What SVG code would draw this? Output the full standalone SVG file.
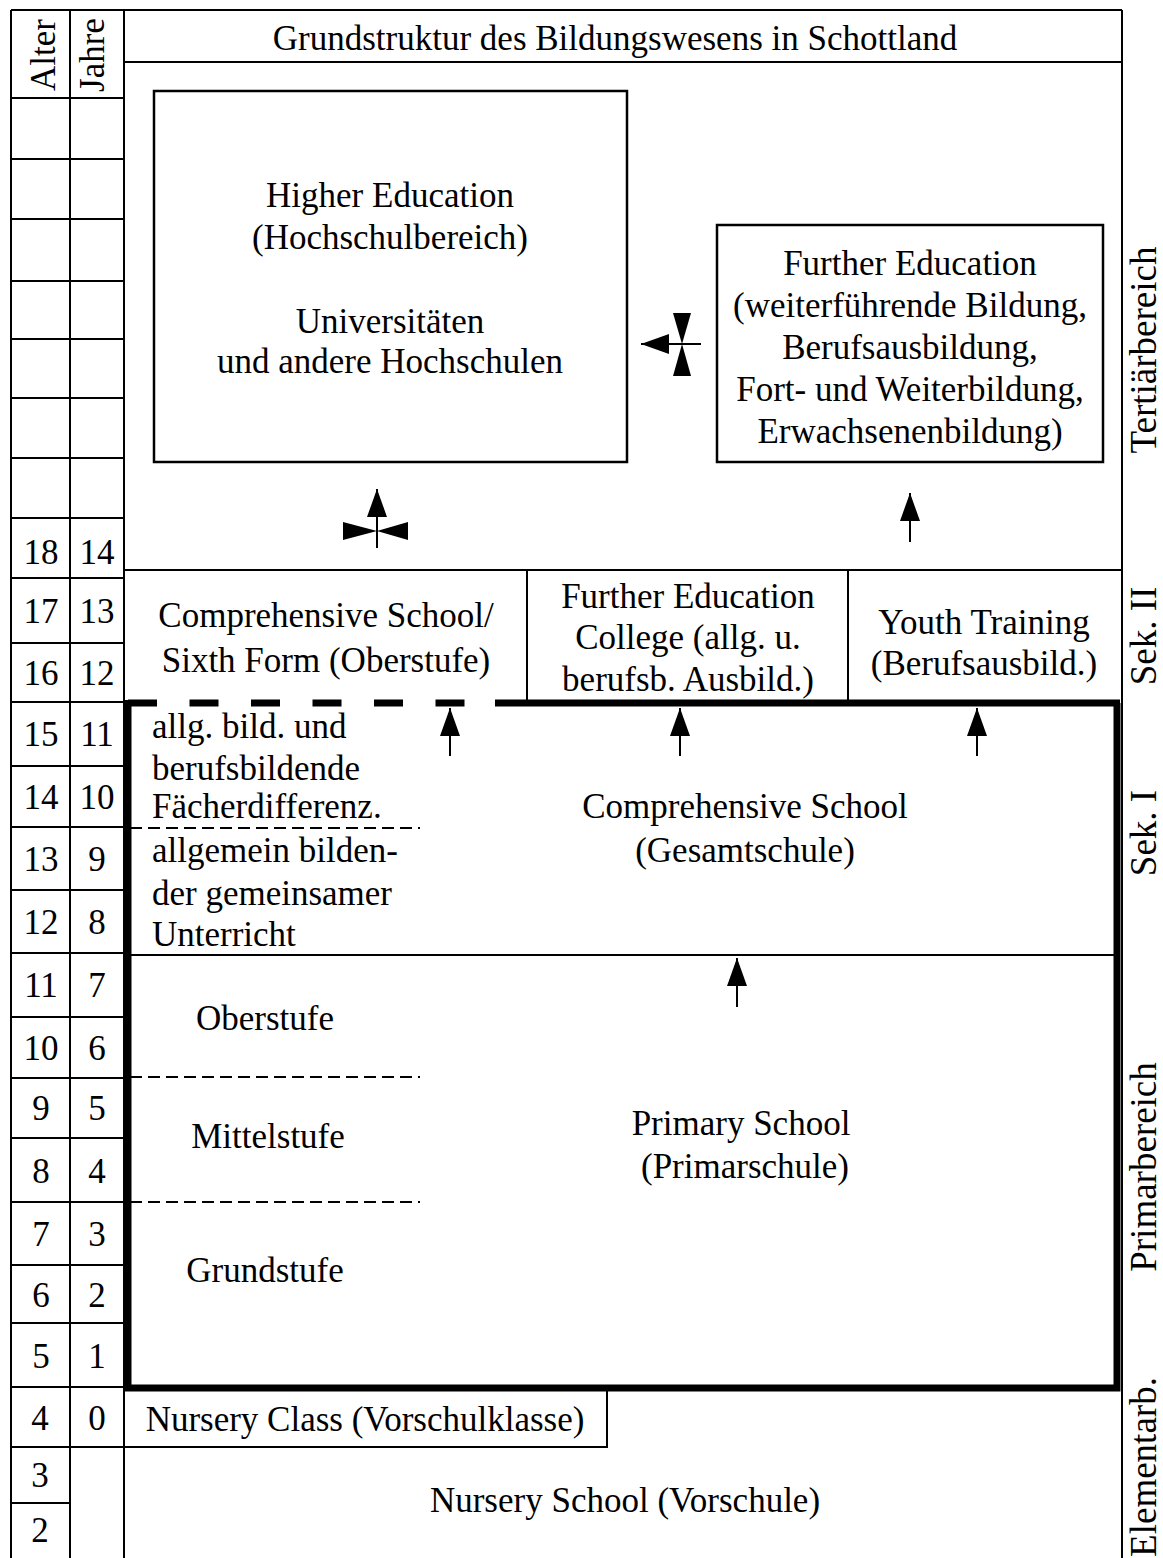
<svg xmlns="http://www.w3.org/2000/svg" width="1163" height="1558" viewBox="0 0 1163 1558">
<style>
.t{font-family:"Liberation Serif","Times New Roman",serif;font-size:35px;fill:#000}
.c{text-anchor:middle}
.r{font-size:37px}
.ln{stroke:#000;stroke-width:2;fill:none}
.box{stroke:#000;stroke-width:2.5;fill:none}
.thick{stroke:#000;stroke-width:7;fill:none}
.tdash{stroke:#000;stroke-width:7;fill:none;stroke-dasharray:29 32.5}
.dash{stroke:#000;stroke-width:2;fill:none;stroke-dasharray:12 6}
.arr{stroke:#000;stroke-width:2;fill:none;marker-end:url(#ah)}
.bow{fill:#000}
</style>
<defs>
<marker id="ah" viewBox="0 0 28 20" refX="28" refY="10" markerWidth="28" markerHeight="20" markerUnits="userSpaceOnUse" orient="auto">
<path d="M0,0 L28,10 L0,20 z" fill="#000"/>
</marker>
</defs>
<rect width="1163" height="1558" fill="#fff"/>

<g id="frame">
<path class="ln" d="M11,10 H1122 M11,10 V1558 M70,10 V1558 M124,10 V1558 M1122,10 V1558 M124,62 H1122 M124,570 H1122 M527,570 V702 M848,570 V702"/>
<path class="ln" d="M11,98 H124 M11,159 H124 M11,219 H124 M11,281 H124 M11,339 H124 M11,398 H124 M11,458 H124 M11,518 H124 M11,578 H124 M11,643 H124 M11,702 H124 M11,766 H124 M11,827 H124 M11,890 H124 M11,953 H124 M11,1017 H124 M11,1078 H124 M11,1138 H124 M11,1202 H124 M11,1265 H124 M11,1323 H124 M11,1387 H124 M11,1447 H124 M11,1503 H70"/>
</g>

<g id="age-column">
<text class="t c" transform="translate(55,55) rotate(-90)">Alter</text>
<text class="t c" transform="translate(104,55) rotate(-90)">Jahre</text>
<text class="t c" x="41" y="564">18</text><text class="t c" x="97" y="564">14</text>
<text class="t c" x="41" y="623">17</text><text class="t c" x="97" y="623">13</text>
<text class="t c" x="41" y="685">16</text><text class="t c" x="97" y="685">12</text>
<text class="t c" x="41" y="746">15</text><text class="t c" x="97" y="746">11</text>
<text class="t c" x="41" y="809">14</text><text class="t c" x="97" y="809">10</text>
<text class="t c" x="41" y="871">13</text><text class="t c" x="97" y="871">9</text>
<text class="t c" x="41" y="934">12</text><text class="t c" x="97" y="934">8</text>
<text class="t c" x="41" y="997">11</text><text class="t c" x="97" y="997">7</text>
<text class="t c" x="41" y="1060">10</text><text class="t c" x="97" y="1060">6</text>
<text class="t c" x="41" y="1120">9</text><text class="t c" x="97" y="1120">5</text>
<text class="t c" x="41" y="1183">8</text><text class="t c" x="97" y="1183">4</text>
<text class="t c" x="41" y="1246">7</text><text class="t c" x="97" y="1246">3</text>
<text class="t c" x="41" y="1307">6</text><text class="t c" x="97" y="1307">2</text>
<text class="t c" x="41" y="1368">5</text><text class="t c" x="97" y="1368">1</text>
<text class="t c" x="40" y="1430">4</text><text class="t c" x="97" y="1430">0</text>
<text class="t c" x="40" y="1487">3</text>
<text class="t c" x="40" y="1542">2</text>
</g>

<g id="title">
<text class="t c" x="615" y="50">Grundstruktur des Bildungswesens in Schottland</text>
</g>

<g id="region-labels">
<text class="t r c" transform="translate(1156,350) rotate(-90)">Tertiärbereich</text>
<text class="t r c" transform="translate(1156,636) rotate(-90)">Sek. II</text>
<text class="t r c" transform="translate(1156,833) rotate(-90)">Sek. I</text>
<text class="t r c" transform="translate(1156,1167) rotate(-90)">Primarbereich</text>
<text class="t r c" transform="translate(1156,1467) rotate(-90)">Elementarb.</text>
</g>

<g id="higher-education">
<rect class="box" x="154" y="91" width="473" height="371"/>
<text class="t c" x="390" y="207">Higher Education</text>
<text class="t c" x="390" y="249">(Hochschulbereich)</text>
<text class="t c" x="390" y="333">Universitäten</text>
<text class="t c" x="390" y="373">und andere Hochschulen</text>
</g>

<g id="further-education">
<rect class="box" x="717" y="225" width="386" height="237"/>
<text class="t c" x="910" y="275">Further Education</text>
<text class="t c" x="910" y="317">(weiterführende Bildung,</text>
<text class="t c" x="910" y="359">Berufsausbildung,</text>
<text class="t c" x="910" y="401">Fort- und Weiterbildung,</text>
<text class="t c" x="910" y="443">Erwachsenenbildung)</text>
</g>

<g id="comprehensive-sixth-form">
<text class="t c" x="326" y="627">Comprehensive School/</text>
<text class="t c" x="326" y="672">Sixth Form (Oberstufe)</text>
</g>

<g id="further-education-college">
<text class="t c" x="688" y="608">Further Education</text>
<text class="t c" x="688" y="649">College (allg. u.</text>
<text class="t c" x="688" y="691">berufsb. Ausbild.)</text>
</g>

<g id="youth-training">
<text class="t c" x="984" y="634">Youth Training</text>
<text class="t c" x="984" y="675">(Berufsausbild.)</text>
</g>

<g id="compulsory-block">
<line class="tdash" x1="128" y1="703" x2="497" y2="703"/>
<line class="thick" x1="495" y1="703" x2="1120" y2="703"/>
<path class="thick" d="M1117,703 V1388 H128 V700"/>
<line class="ln" x1="128" y1="955" x2="1117" y2="955"/>
</g>

<g id="comprehensive-school">
<text class="t" x="152" y="738">allg. bild. und</text>
<text class="t" x="152" y="780">berufsbildende</text>
<text class="t" x="152" y="818">Fächerdifferenz.</text>
<line class="dash" x1="130" y1="828" x2="420" y2="828"/>
<text class="t" x="152" y="862">allgemein bilden-</text>
<text class="t" x="152" y="905">der gemeinsamer</text>
<text class="t" x="152" y="946">Unterricht</text>
<text class="t c" x="745" y="818">Comprehensive School</text>
<text class="t c" x="745" y="862">(Gesamtschule)</text>
</g>

<g id="primary-school">
<text class="t c" x="265" y="1030">Oberstufe</text>
<line class="dash" x1="130" y1="1077" x2="420" y2="1077"/>
<text class="t c" x="268" y="1148">Mittelstufe</text>
<line class="dash" x1="130" y1="1202" x2="420" y2="1202"/>
<text class="t c" x="265" y="1282">Grundstufe</text>
<text class="t c" x="741" y="1135">Primary School</text>
<text class="t c" x="745" y="1178">(Primarschule)</text>
</g>

<g id="nursery-class">
<path class="ln" d="M124,1447 H607 V1388"/>
<text class="t c" x="365" y="1431">Nursery Class (Vorschulklasse)</text>
</g>

<g id="nursery-school">
<text class="t c" x="625" y="1512">Nursery School (Vorschule)</text>
</g>

<g id="connectors">
<line class="arr" x1="701" y1="344" x2="641" y2="344"/>
<polygon class="bow" points="673,313 691,313 682,344"/>
<polygon class="bow" points="673,376 691,376 682,344"/>
<line class="arr" x1="377" y1="548" x2="377" y2="489"/>
<polygon class="bow" points="343,522 343,540 377,531"/>
<polygon class="bow" points="408,522 408,540 377,531"/>
<line class="arr" x1="910" y1="542" x2="910" y2="493"/>
<line class="arr" x1="450" y1="756" x2="450" y2="708"/>
<line class="arr" x1="680" y1="756" x2="680" y2="708"/>
<line class="arr" x1="977" y1="756" x2="977" y2="708"/>
<line class="arr" x1="737" y1="1007" x2="737" y2="958"/>
</g>
</svg>
